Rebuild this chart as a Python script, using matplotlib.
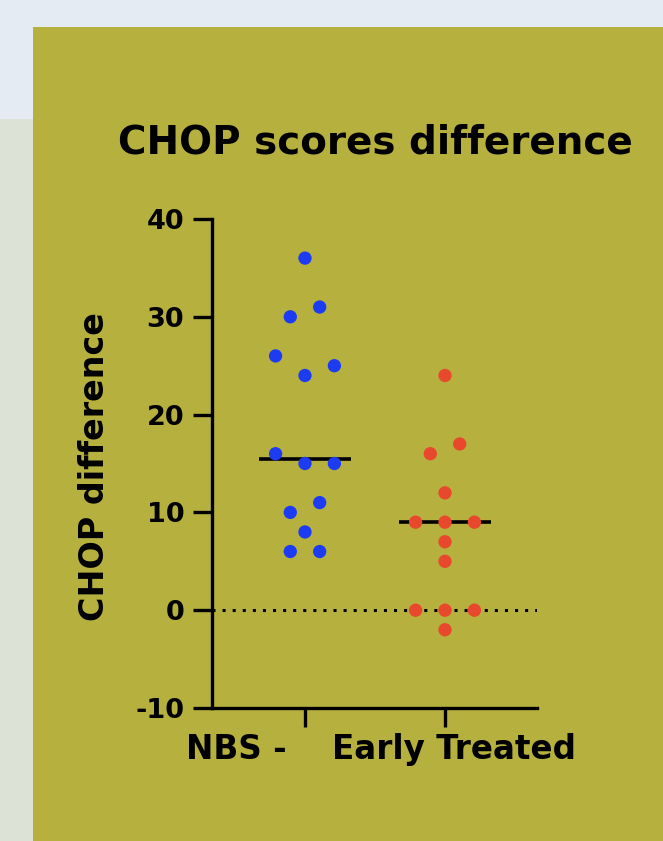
import matplotlib
matplotlib.use('Agg')
import matplotlib.pyplot as plt
import matplotlib.transforms as mtransforms
from matplotlib.patches import Rectangle
import numpy as np

# data
groups = ['NBS -', 'Early Treated']
nbs_values = [36, 31, 30, 26, 25, 24, 16, 15, 15, 11, 10, 8, 6, 6]
early_values = [24, 17, 16, 12, 9, 9, 9, 7, 5, 0, 0, 0, -2]
y_ticks = [-10, 0, 10, 20, 30, 40]

blue = '#1d3cf2'
red = '#e8482c'
olive = '#b6b13f'


def row_offsets(values, slot):
    # values that sit close together are spread side by side in a row
    order = sorted(range(len(values)), key=lambda i: -values[i])
    rows = []
    for i in order:
        if rows and values[rows[-1][-1]] - values[i] <= 1:
            rows[-1].append(i)
        else:
            rows.append([i])
    offs = [0.0] * len(values)
    patterns = {1: [0], 2: [0.5, -0.5], 3: [-1, 1, 0]}
    for r in rows:
        pat = patterns.get(len(r), list(np.arange(len(r)) - (len(r) - 1) / 2))
        for i, p in zip(r, pat):
            offs[i] = p * slot
    return offs


plt.rcParams['font.family'] = 'DejaVu Sans'
plt.rcParams['font.weight'] = 'bold'

fig = plt.figure(figsize=(6.63, 8.41), dpi=100)
fig.patch.set_facecolor('#e4ebf3')
fig.patches.append(Rectangle((0, 0), 33 / 663, 1 - 119 / 841, transform=fig.transFigure,
                             facecolor='#dde2d6', edgecolor='none', zorder=-2))
fig.patches.append(Rectangle((33 / 663, 0), 1, 1 - 27 / 841, transform=fig.transFigure,
                             facecolor=olive, edgecolor='none', zorder=-2))

ax = fig.add_axes([212 / 663, 1 - 708 / 841, 325 / 663, 489 / 841])
ax.set_facecolor('none')
ax.set_zorder(2)

slot = 0.21
for k, (vals, col) in enumerate([(nbs_values, blue), (early_values, red)]):
    xs = [k + o for o in row_offsets(vals, slot)]
    ax.scatter(xs, vals, s=92, color=col, edgecolors='none', zorder=4, clip_on=False)
    med = np.median(vals)
    ax.plot([k - 0.33, k + 0.33], [med, med], color='black', lw=2.6, zorder=3,
            solid_capstyle='butt')

ax.axhline(0, color='black', lw=2.2, linestyle=(0, (1, 2.3)), zorder=2)

ax.set_xlim(-0.664, 1.657)
ax.set_ylim(-10, 40)
ax.set_yticks(y_ticks)
ax.set_yticklabels([str(t) for t in y_ticks])
ax.set_xticks([0, 1])
ax.set_xticklabels(groups)

for s in ['top', 'right']:
    ax.spines[s].set_visible(False)
for s in ['left', 'bottom']:
    ax.spines[s].set_linewidth(2.4)

ax.tick_params(axis='y', length=14, width=2.4, pad=6, labelsize=19.5)
ax.tick_params(axis='x', length=14, width=2.4, pad=4, labelsize=23.5)

# shift the group labels a bit like in the original
shifts = [-0.69, 0.09]
for lab, dx in zip(ax.get_xticklabels(), shifts):
    lab.set_transform(lab.get_transform() + mtransforms.ScaledTranslation(dx, 0, fig.dpi_scale_trans))

fig.text(375 / 663, 1 - 153 / 841, 'CHOP scores difference', ha='center', va='baseline',
         fontsize=28, fontweight='bold')
fig.text(95 / 663, 1 - 467 / 841, 'CHOP difference', rotation=90, ha='center', va='center',
         fontsize=24, fontweight='bold')

fig.savefig('out.png', dpi=100, facecolor=fig.get_facecolor())
